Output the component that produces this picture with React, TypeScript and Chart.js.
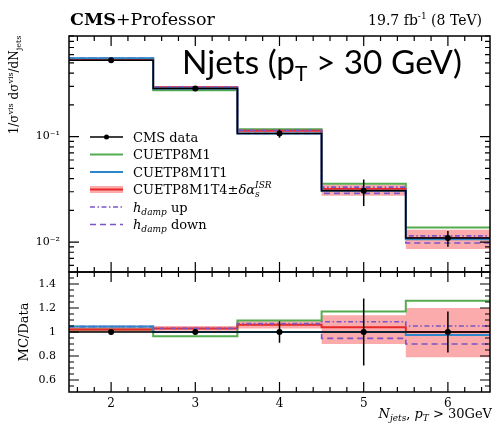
import React, { useEffect, useRef } from "react";
import { Chart, registerables } from "chart.js";

Chart.register(...registerables);

// ---------- data ----------
const binLow = [1.5, 2.5, 3.5, 4.5, 5.5];
const binHigh = [2.5, 3.5, 4.5, 5.5, 6.5];
const binCenter = [2, 3, 4, 5, 6];
const cmsData = [0.53, 0.286, 0.107, 0.0306, 0.0109];
const cmsRelErr = [0.02, 0.02, 0.09, 0.28, 0.17];
const ratioCUETP8M1 = [1.02, 0.965, 1.095, 1.17, 1.26];
const ratioCUETP8M1T1 = [1.045, 1.0, 1.0, 1.0, 0.975];
const ratioCUETP8M1T4 = [1.02, 1.03, 1.06, 1.04, 1.0];
const ratioT4Low = [1.0, 1.01, 1.03, 0.9, 0.79];
const ratioT4High = [1.04, 1.05, 1.09, 1.14, 1.2];
const ratioHdampUp = [1.045, 1.03, 1.07, 1.085, 1.05];
const ratioHdampDown = [1.045, 1.0, 1.0, 0.947, 0.9];
const xTickLabels = ["2", "3", "4", "5", "6"];
const ratioTickValues = [0.6, 0.8, 1, 1.2, 1.4];
const ratioTickLabels = ["0.6", "0.8", "1", "1.2", "1.4"];
const logTickValues = [0.1, 0.01];
const logTickLabels = ["10\u207B\u00B9", "10\u207B\u00B2"];

const SERIF = '"DejaVu Serif", "Liberation Serif", serif';
const SANS = 'Lato, "Open Sans", sans-serif';

const GREEN = "rgb(84,172,80)";
const BLUE = "rgb(45,135,200)";
const RED = "rgb(232,40,40)";
const PINK = "rgba(248,120,120,0.62)";
const PURPLE = "rgb(120,85,200)";

type Pt = { x: number; y: number | null };
const stepPts = (vals: number[]): Pt[] =>
  vals.flatMap((v, i) => [
    { x: binLow[i], y: v },
    { x: binHigh[i], y: v },
  ]);
const scaleBy = (r: number[]) => cmsData.map((d, i) => d * r[i]);
const errPts = (center: number[], rel: number[]): Pt[] =>
  center.flatMap((v, i) => [
    { x: binCenter[i], y: v * (1 - rel[i]) },
    { x: binCenter[i], y: v * (1 + rel[i]) },
    { x: binCenter[i], y: null },
  ]);
const ones = cmsData.map(() => 1);

type Seg = { t: string; size: number; style?: string; weight?: string; dy?: number; family?: string; noAdvance?: boolean };
function fontOf(s: Seg, k = 1) {
  return `${s.style || "normal"} ${s.weight || "normal"} ${s.size * k}px ${s.family || SERIF}`;
}
function drawRich(
  ctx: CanvasRenderingContext2D,
  x: number,
  y: number,
  segs: Seg[],
  align: "left" | "right" | "center",
  fitWidth?: number
) {
  const measure = (k: number) => {
    let total = 0;
    for (const s of segs) {
      ctx.font = fontOf(s, k);
      if (!s.noAdvance) total += ctx.measureText(s.t).width;
    }
    return total;
  };
  let k = 1;
  let total = measure(1);
  if (fitWidth) {
    k = fitWidth / total;
    total = measure(k);
  }
  let cx = align === "left" ? x : align === "right" ? x - total : x - total / 2;
  ctx.textAlign = "left";
  ctx.textBaseline = "alphabetic";
  for (const s of segs) {
    ctx.font = fontOf(s, k);
    ctx.fillText(s.t, cx, y + (s.dy || 0) * k);
    if (!s.noAdvance) cx += ctx.measureText(s.t).width;
  }
}

const line = (label: string, data: Pt[], axis: string, color: string, extra: any = {}) => ({
  type: "line",
  label,
  data,
  yAxisID: axis,
  borderColor: color,
  backgroundColor: color,
  borderWidth: 2,
  pointRadius: 0,
  fill: false,
  tension: 0,
  ...extra,
});

const decorPlugin = {
  id: "decor",
  afterDatasetsDraw(chart: any) {
    const ctx: CanvasRenderingContext2D = chart.ctx;
    const { left, right } = chart.chartArea;
    const xs = chart.scales.x;
    const panels = [chart.scales.y, chart.scales.yr];
    ctx.save();
    ctx.strokeStyle = "#000";
    ctx.lineWidth = 1.2;
    // inward ticks along x on each panel
    for (const p of panels) {
      for (let k = 8; k <= 32; k++) {
        const px = xs.getPixelForValue(k / 5);
        const len = k % 5 === 0 ? 10 : 5;
        ctx.beginPath();
        ctx.moveTo(px, p.top);
        ctx.lineTo(px, p.top + len);
        ctx.moveTo(px, p.bottom);
        ctx.lineTo(px, p.bottom - len);
        ctx.stroke();
      }
    }
    // log panel y ticks
    const ly = chart.scales.y;
    for (let e = -3; e <= 0; e++) {
      for (let m = 1; m <= 9; m++) {
        const v = m * Math.pow(10, e);
        if (v < ly.min || v > ly.max) continue;
        const py = ly.getPixelForValue(v);
        const len = m === 1 ? 10 : 5;
        ctx.beginPath();
        ctx.moveTo(left, py);
        ctx.lineTo(left + len, py);
        ctx.moveTo(right, py);
        ctx.lineTo(right - len, py);
        ctx.stroke();
      }
    }
    // ratio panel y ticks
    const ry = chart.scales.yr;
    for (let k = 11; k <= 29; k++) {
      const py = ry.getPixelForValue(k / 20);
      const len = k % 4 === 0 ? 10 : 5;
      ctx.beginPath();
      ctx.moveTo(left, py);
      ctx.lineTo(left + len, py);
      ctx.moveTo(right, py);
      ctx.lineTo(right - len, py);
      ctx.stroke();
    }
    // panel frames
    ctx.lineWidth = 1.5;
    for (const p of panels) {
      ctx.strokeRect(left, p.top, right - left, p.bottom - p.top);
    }

    // legend
    ctx.fillStyle = "#000";
    const lx0 = 90;
    const lx1 = 123;
    const tx = 133;
    const rows = [137, 154.5, 172, 189.5, 207, 224.5];
    const F = 13;
    ctx.strokeStyle = "#000";
    ctx.lineWidth = 1.5;
    ctx.beginPath();
    ctx.moveTo(lx0, rows[0]);
    ctx.lineTo(lx1, rows[0]);
    ctx.stroke();
    ctx.beginPath();
    ctx.arc((lx0 + lx1) / 2, rows[0], 2.5, 0, Math.PI * 2);
    ctx.fill();
    drawRich(ctx, tx, rows[0] + 4.5, [{ t: "CMS data", size: F }], "left");
    ctx.lineWidth = 2;
    ctx.strokeStyle = GREEN;
    ctx.beginPath();
    ctx.moveTo(lx0, rows[1]);
    ctx.lineTo(lx1, rows[1]);
    ctx.stroke();
    drawRich(ctx, tx, rows[1] + 4.5, [{ t: "CUETP8M1", size: F }], "left");
    ctx.strokeStyle = BLUE;
    ctx.beginPath();
    ctx.moveTo(lx0, rows[2]);
    ctx.lineTo(lx1, rows[2]);
    ctx.stroke();
    drawRich(ctx, tx, rows[2] + 4.5, [{ t: "CUETP8M1T1", size: F }], "left");
    ctx.fillStyle = PINK;
    ctx.fillRect(lx0, rows[3] - 3.5, lx1 - lx0, 7);
    ctx.strokeStyle = RED;
    ctx.beginPath();
    ctx.moveTo(lx0, rows[3]);
    ctx.lineTo(lx1, rows[3]);
    ctx.stroke();
    ctx.fillStyle = "#000";
    drawRich(
      ctx,
      tx,
      rows[3] + 4.5,
      [
        { t: "CUETP8M1T4\u00B1", size: F },
        { t: "\u03B4\u03B1", size: F, style: "italic" },
        { t: "s", size: 9, style: "italic", dy: 3, noAdvance: true },
        { t: "ISR", size: 9, style: "italic", dy: -6 },
      ],
      "left"
    );
    ctx.strokeStyle = PURPLE;
    ctx.lineWidth = 1.5;
    ctx.setLineDash([5, 2.5, 1.5, 2.5]);
    ctx.beginPath();
    ctx.moveTo(lx0, rows[4]);
    ctx.lineTo(lx1, rows[4]);
    ctx.stroke();
    ctx.setLineDash([6, 4]);
    ctx.beginPath();
    ctx.moveTo(lx0, rows[5]);
    ctx.lineTo(lx1, rows[5]);
    ctx.stroke();
    ctx.setLineDash([]);
    drawRich(
      ctx,
      tx,
      rows[4] + 4.5,
      [
        { t: "h", size: F, style: "italic" },
        { t: "damp", size: 9, style: "italic", dy: 3 },
        { t: " up", size: F },
      ],
      "left"
    );
    drawRich(
      ctx,
      tx,
      rows[5] + 4.5,
      [
        { t: "h", size: F, style: "italic" },
        { t: "damp", size: 9, style: "italic", dy: 3 },
        { t: " down", size: F },
      ],
      "left"
    );

    // big title
    drawRich(
      ctx,
      182,
      74,
      [
        { t: "Njets (p", size: 27, family: SANS },
        { t: "T", size: 17, family: SANS, dy: 6 },
        { t: " > 30 GeV)", size: 27, family: SANS },
      ],
      "left",
      280
    );

    // header
    drawRich(
      ctx,
      70,
      25,
      [
        { t: "CMS", size: 17.5, weight: "bold" },
        { t: "+Professor", size: 17.5 },
      ],
      "left"
    );
    drawRich(
      ctx,
      482,
      25,
      [
        { t: "19.7 fb", size: 14 },
        { t: "-1", size: 9, dy: -6 },
        { t: " (8 TeV)", size: 14 },
      ],
      "right"
    );

    // x title
    drawRich(
      ctx,
      492,
      418,
      [
        { t: "N", size: 13, style: "italic" },
        { t: "jets", size: 9, style: "italic", dy: 3 },
        { t: ", ", size: 13 },
        { t: "p", size: 13, style: "italic" },
        { t: "T", size: 9, style: "italic", dy: 3 },
        { t: " > 30GeV", size: 13 },
      ],
      "right"
    );

    // y titles
    ctx.save();
    ctx.translate(18, 85);
    ctx.rotate(-Math.PI / 2);
    drawRich(
      ctx,
      0,
      0,
      [
        { t: "1/\u03C3", size: 12 },
        { t: "vis", size: 8, dy: -5 },
        { t: " d\u03C3", size: 12 },
        { t: "vis", size: 8, dy: -5 },
        { t: "/dN", size: 12 },
        { t: "jets", size: 8, dy: 3 },
      ],
      "center"
    );
    ctx.restore();
    ctx.save();
    ctx.translate(28, 332);
    ctx.rotate(-Math.PI / 2);
    drawRich(ctx, 0, 0, [{ t: "MC/Data", size: 13 }], "center");
    ctx.restore();

    ctx.restore();
  },
};

export default function App() {
  const ref = useRef<HTMLCanvasElement | null>(null);
  useEffect(() => {
    if (!ref.current) return;
    const tickFont = { family: SERIF, size: 11 };
    const datasets: any[] = [
      { type: "line", label: "CMS data", data: binCenter.map((x, i) => ({ x, y: cmsData[i] })), yAxisID: "y", showLine: false, pointRadius: 3, pointBackgroundColor: "#000", pointBorderWidth: 0 },
      line("CMS data err", errPts(cmsData, cmsRelErr), "y", "#000", { borderWidth: 1.5, spanGaps: false }),
      line("CMS data step", stepPts(cmsData), "y", "#000", { borderWidth: 1.5 }),
      { type: "line", label: "ratio data", data: binCenter.map((x) => ({ x, y: 1 })), yAxisID: "yr", showLine: false, pointRadius: 3, pointBackgroundColor: "#000", pointBorderWidth: 0 },
      line("ratio err", errPts(ones, cmsRelErr), "yr", "#000", { borderWidth: 1.5, spanGaps: false }),
      line("ratio step", stepPts(ones), "yr", "#000", { borderWidth: 1.5 }),
      line("T1", stepPts(scaleBy(ratioCUETP8M1T1)), "y", BLUE),
      line("T1 r", stepPts(ratioCUETP8M1T1), "yr", BLUE),
      line("hdown", stepPts(scaleBy(ratioHdampDown)), "y", PURPLE, { borderWidth: 1.6, borderDash: [6, 4] }),
      line("hdown r", stepPts(ratioHdampDown), "yr", PURPLE, { borderWidth: 1.6, borderDash: [6, 4] }),
      line("hup", stepPts(scaleBy(ratioHdampUp)), "y", PURPLE, { borderWidth: 1.6, borderDash: [5, 2.5, 1.5, 2.5] }),
      line("hup r", stepPts(ratioHdampUp), "yr", PURPLE, { borderWidth: 1.6, borderDash: [5, 2.5, 1.5, 2.5] }),
      line("T4", stepPts(scaleBy(ratioCUETP8M1T4)), "y", RED),
      line("T4 r", stepPts(ratioCUETP8M1T4), "yr", RED),
      line("M1", stepPts(scaleBy(ratioCUETP8M1)), "y", GREEN),
      line("M1 r", stepPts(ratioCUETP8M1), "yr", GREEN),
      line("band hi", stepPts(scaleBy(ratioT4High)), "y", "rgba(0,0,0,0)", { borderWidth: 0, fill: "+1", backgroundColor: PINK }),
      line("band lo", stepPts(scaleBy(ratioT4Low)), "y", "rgba(0,0,0,0)", { borderWidth: 0 }),
      line("band hi r", stepPts(ratioT4High), "yr", "rgba(0,0,0,0)", { borderWidth: 0, fill: "+1", backgroundColor: PINK }),
      line("band lo r", stepPts(ratioT4Low), "yr", "rgba(0,0,0,0)", { borderWidth: 0 }),
    ];
    const chart = new Chart(ref.current, {
      type: "line",
      data: { datasets },
      plugins: [decorPlugin],
      options: {
        animation: false,
        responsive: false,
        maintainAspectRatio: false,
        devicePixelRatio: 1,
        layout: { padding: { top: 36, right: 3, left: 0, bottom: 0 } },
        plugins: { legend: { display: false }, tooltip: { enabled: false } },
        scales: {
          x: {
            type: "linear",
            min: 1.5,
            max: 6.5,
            grid: { display: false, drawTicks: false },
            border: { display: false },
            afterBuildTicks: (s: any) => {
              s.ticks = binCenter.map((v) => ({ value: v }));
            },
            ticks: {
              autoSkip: false,
              maxRotation: 0,
              padding: 5,
              color: "#000",
              font: { family: SERIF, size: 12 },
              callback: (v: any) => {
                const i = binCenter.findIndex((c) => Math.abs(c - Number(v)) < 1e-6);
                return i >= 0 ? xTickLabels[i] : "";
              },
            },
            afterFit: (s: any) => {
              s.height = 35;
            },
          },
          yr: {
            type: "linear",
            position: "left",
            stack: "panels",
            stackWeight: 120,
            min: 0.5,
            max: 1.5,
            grid: { display: false, drawTicks: false },
            border: { display: false },
            afterBuildTicks: (s: any) => {
              s.ticks = ratioTickValues.map((v) => ({ value: v }));
            },
            ticks: {
              autoSkip: false,
              padding: 13,
              color: "#000",
              font: tickFont,
              callback: (v: any) => {
                const i = ratioTickValues.findIndex((t) => Math.abs(t - Number(v)) < 1e-6);
                return i >= 0 ? ratioTickLabels[i] : "";
              },
            },
            afterFit: (s: any) => {
              s.width = 69;
            },
          },
          y: {
            type: "logarithmic",
            position: "left",
            stack: "panels",
            stackWeight: 236,
            min: 0.0052,
            max: 0.9,
            grid: { display: false, drawTicks: false },
            border: { display: false },
            afterBuildTicks: (s: any) => {
              s.ticks = logTickValues.map((v) => ({ value: v }));
            },
            ticks: {
              autoSkip: false,
              padding: 9,
              color: "#000",
              font: tickFont,
              callback: (v: any) => {
                const i = logTickValues.findIndex((t) => Math.abs(t - Number(v)) / t < 1e-6);
                return i >= 0 ? logTickLabels[i] : "";
              },
            },
            afterFit: (s: any) => {
              s.width = 69;
            },
          },
        },
      } as any,
    });
    return () => chart.destroy();
  }, []);
  return (
    <div style={{ position: "fixed", left: 0, top: 0, width: 494, height: 427, background: "#fff" }}>
      <canvas ref={ref} width={494} height={427} style={{ width: 494, height: 427, display: "block" }} />
    </div>
  );
}
